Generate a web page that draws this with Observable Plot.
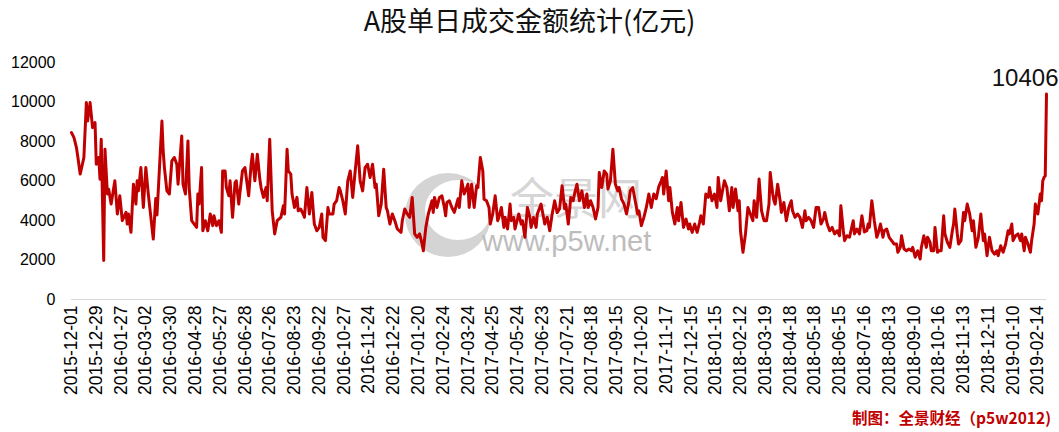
<!DOCTYPE html>
<html><head><meta charset="utf-8">
<script src="https://cdn.jsdelivr.net/npm/d3@7"></script>
<script src="https://cdn.jsdelivr.net/npm/@observablehq/plot@0.6"></script>
<style>
html,body{margin:0;padding:0;background:#fff;}
#wrap{position:relative;width:1059px;height:432px;overflow:hidden;font-family:"Liberation Sans",Arial,sans-serif;}
#title{position:absolute;left:0;top:2px;width:1059px;text-align:center;font-family:"Noto Sans CJK SC",sans-serif;font-size:27px;line-height:36px;color:#111;}
#caption{position:absolute;right:8px;top:406px;font-family:"Noto Sans CJK SC",sans-serif;font-weight:bold;font-size:15.5px;line-height:22px;color:#c00000;}
.wm{position:absolute;color:#c9c9c9;white-space:nowrap;}
#wm1{left:510px;top:168px;font-family:"Noto Sans CJK SC",sans-serif;font-size:44px;line-height:56px;color:#d6d6d6;}
#wm2{left:482px;top:224px;font-family:"Liberation Sans",Arial,sans-serif;font-size:29px;line-height:34px;color:#bdbdbd;}
#logo{position:absolute;left:405px;top:173px;width:86px;height:84px;border-radius:50%;background:#d4d4d4;}
#logo2{position:absolute;left:425px;top:180px;width:66px;height:60px;border-radius:50%;background:#fff;}
#chart{position:absolute;left:0;top:0;}
</style></head>
<body>
<div id="wrap">
  <div id="logo"></div><div id="logo2"></div>
  <div class="wm" id="wm1">全景网</div>
  <div class="wm" id="wm2">www.p5w.net</div>
  <div id="chart"></div>
  <div id="title">A股单日成交金额统计(亿元)</div>
  <div id="caption">制图：全景财经（p5w2012)</div>
</div>
<script>
// trading-day index (0 = 2015-12-01) and turnover (亿元)
const days = [0,2,4,5,7,10,12,13,15,17,19,20,22,23,24,26,27,29,30,32,35,37,39,41,44,45,46,48,50,52,53,54,56,58,60,62,66,68,69,73,
74,75,77,79,81,83,85,86,89,90,92,94,95,97,99,101,102,103,105,106,108,110,112,114,115,117,119,121,122,124,125,127,128,130,132,133,135,136,138,140,143,145,146,148,150,152,153,155,157,158,160,162,164,166,169,171,172,174,175,177,178,180,182,183,185,187,188,190,192,194,196,198,200,202,203,205,207,208,211,212,214,216,217,219,221,223,225,227,229,231,233,235,237,239,241,243,245,246,248,250,252,254,255,257,259,261,263,266,267,269,271,273,275,277,279,281,283,284,286,288,291,292,293,295,297,299,301,302,303,305,307,309,312,313,315,317,318,320,321,323,325,327,328,330,332,333,335,337,338,340,342,344,345,347,349,350,352,354,355,357,358,361,363,364,366,368,370,371,373,375,376,379,381,382,384,386,388,390,392,394,396,398,399,401,403,405,406,408,410,412,414,416,417,419,421,423,425,426,428,430,432,433,435,437,439,441,442,444,446,448,450,451,453,455,457,458,460,462,464,466,468,470,472,474,476,477,478,480,482,483,485,487,489,490,492,494,496,498,499,501,503,505,507,508,510,512,514,515,517,519,521,522,524,525,527,529,531,533,534,536,538,539,540,542,544,546,547,550,551,553,555,557,559,561,563,564,566,567,568,570,572,573,575,577,579,581,582,584,586,588,590,592,593,595,597,599,601,603,605,607,608,610,612,614,616,618,620,621,623,624,626,628,631,632,634,636,638,640,642,643,644,646,648,650,651,653,655,656,658,660,662,664,666,667,669,670,672,674,676,678,679,681,683,685,686,688,690,691,693,694,696,697,699,700,702,704,705,707,709,711,712,713,715,716,718,720,721,723,725,727,728,730,732,734,736,737,739,741,743,745,747,748,750,752,754,756,757,759,760,762,764,766,767,769,770,772,774,775,777,778,780,782,783,784,785,786,787];
const values = [8450,8200,7690,7270,6350,7190,9970,9040,9970,8700,8960,6850,7190,6090,8110,1970,7610,5340,5590,4830,6010,4330,5250,3990,4410,3820,4330,3400,5840,4830,6010,5500,6680,4660,6680,5340,3060,5120,4280,9040,
7520,6680,5500,5340,7020,7190,6850,5840,8280,5840,5340,8030,5670,3990,3820,3650,5340,4830,6680,3480,3990,3480,4330,3740,4240,3740,3990,3400,6510,6510,5670,5250,6010,4160,5920,6010,4830,5420,6510,6680,5250,6850,7360,6010,7360,6100,5670,5170,5670,5000,8110,4490,3320,3990,4160,4750,4330,7610,6510,6350,5340,4660,5170,4490,4580,4330,4160,5670,4330,5420,3820,3480,3650,4330,3150,2980,4660,4330,4330,4830,5000,5670,5500,5000,4330,6010,6510,5170,6510,7780,6010,5500,6680,6850,6180,6850,5670,5840,4240,4830,6600,4660,4490,3820,4330,3990,3570,3400,3990,4580,4330,4160,5170,3320,3150,3320,2810,2470,3650,4330,5000,4410,5170,4660,5170,5250,4660,4240,4910,5000,4660,4410,5100,4660,6010,5340,5500,5840,4660,5840,4660,5760,5670,7190,6510,5080,5000,4660,3820,4330,5250,3990,4160,4660,3650,4160,3570,4830,3990,4160,3570,4330,3820,3990,3150,4660,4160,3650,4160,3650,4330,4830,4160,3820,4160,3480,4330,5000,4400,4600,5760,4600,4830,3820,5170,5000,5340,5840,5000,5500,4660,5340,4660,5000,4660,4080,4660,6430,5670,6510,6350,5590,6010,7610,5840,5500,5670,5080,4830,4330,5000,5500,5670,5000,4330,4490,3740,4160,4660,5340,4660,5340,5100,5700,6010,6180,5340,6510,5000,5670,4410,3820,4660,3990,4910,3650,4080,3570,3820,3400,3820,3400,3910,4240,3820,5340,5170,5670,5000,5340,4660,6180,5000,5340,6010,5670,4490,5670,4660,5590,4490,5000,3480,2390,3320,4660,4490,3990,5000,4160,6100,4490,3990,3990,4830,6430,5340,5000,4830,5840,5000,4410,4910,3990,4660,5000,4490,4160,4330,4160,3650,4490,3990,4160,3990,3650,4660,4660,3820,4080,4410,3820,3480,3650,3320,3480,3230,4750,3480,2980,3230,3150,3990,3320,3570,3320,4240,3420,3480,3820,3650,5000,3990,3150,3320,3820,3150,3480,3570,3150,2980,2810,2810,2390,2640,3230,2560,2470,2560,2470,2640,2140,2470,2050,2640,3230,2640,3150,2900,2470,2470,3650,2390,2470,2470,4240,3320,2900,2640,3480,3820,4580,3320,2810,2980,4400,3990,4830,4330,3480,3990,2640,3150,4330,2980,3320,2220,3150,2470,2300,2470,2220,2720,2390,2810,3480,3320,3820,2980,3230,3320,2980,3320,2470,3150,2810,2390,2980,3820,4830,4330,5340,5000,6010,6180,6260,10406];
const tickLabels = ["2015-12-01","2015-12-29","2016-01-27","2016-03-02","2016-03-30","2016-04-28","2016-05-27","2016-06-28","2016-07-26","2016-08-23","2016-09-22","2016-10-27","2016-11-24","2016-12-22","2017-01-20","2017-02-24","2017-03-24","2017-04-25","2017-05-24","2017-06-23","2017-07-21","2017-08-18","2017-09-15","2017-10-20","2017-11-17","2017-12-15","2018-01-15","2018-02-12","2018-03-19","2018-04-18","2018-05-18","2018-06-15","2018-07-16","2018-08-13","2018-09-10","2018-10-16","2018-11-13","2018-12-11","2019-01-10","2019-02-14"];
const yTicks = [0,2000,4000,6000,8000,10000,12000];
const peakLabel = "10406";

const n = Math.min(days.length, values.length);
const data = d3.range(n).map(i => ({day: days[i], value: values[i]}));
const last = data[data.length - 1];
const tickDays = tickLabels.map((d, i) => i * 20);

const chart = Plot.plot({
  width: 1059, height: 432,
  marginTop: 62, marginBottom: 133, marginLeft: 71, marginRight: 13,
  style: {background: "transparent", fontFamily: "'Liberation Sans', Arial, sans-serif", color: "#000"},
  x: {domain: [0, 787]},
  y: {domain: [0, 12000]},
  marks: [
    Plot.axisY({ticks: yTicks, tickSize: 0, tickPadding: 16, fontSize: 16, label: null, tickFormat: d => String(d)}),
    Plot.axisX({ticks: tickDays, tickFormat: d => tickLabels[Math.round(d / 20)], tickRotate: -90, tickSize: 0, tickPadding: 6, fontSize: 17.5, label: null}),
    Plot.ruleY([0], {stroke: "#d9d9d9", strokeWidth: 1}),
    Plot.line(data, {x: "day", y: "value", stroke: "#c00000", strokeWidth: 3, strokeLinejoin: "round"}),
    Plot.text([last], {x: "day", y: "value", text: () => peakLabel, textAnchor: "end", lineAnchor: "bottom", dx: 12, dy: -8, fontSize: 24, fill: "#111"})
  ]
});
document.getElementById("chart").appendChild(chart);
</script>
</body></html>
